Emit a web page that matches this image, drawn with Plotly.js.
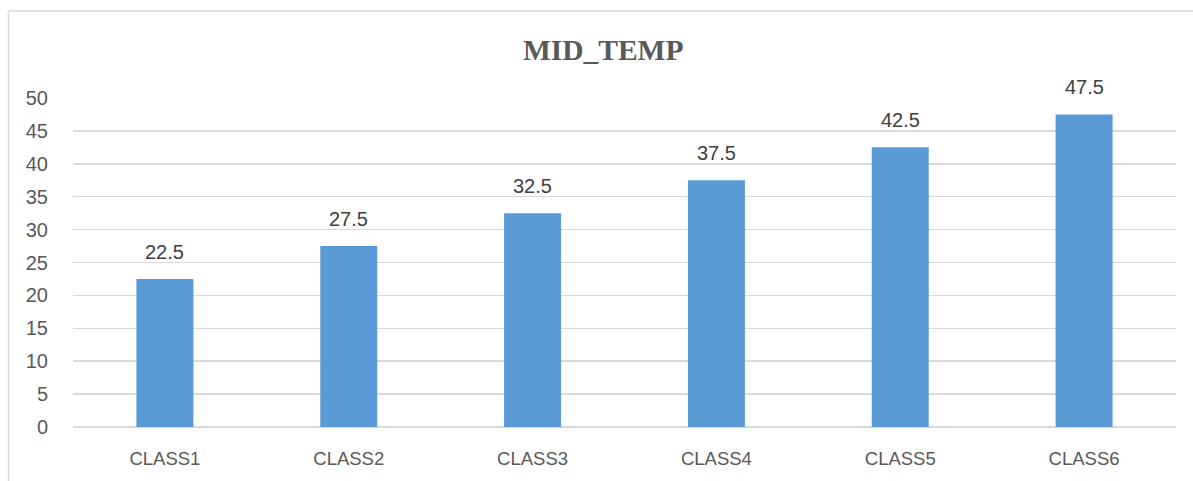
<!DOCTYPE html>
<html>
<head>
<meta charset="utf-8">
<script src="https://cdn.plot.ly/plotly-3.0.1.min.js"></script>
<style>html,body{margin:0;padding:0;background:#fff;}#chart{width:1193px;height:481px;}</style>
</head>
<body>
<div id="chart"></div>
<script>
var categories = ["CLASS1", "CLASS2", "CLASS3", "CLASS4", "CLASS5", "CLASS6"];
var midTemp = [22.5, 27.5, 32.5, 37.5, 42.5, 47.5];
var yTicks = [0, 5, 10, 15, 20, 25, 30, 35, 40, 45, 50];

var trace = {
  type: 'bar',
  x: categories,
  y: midTemp,
  marker: {color: '#5b9bd5'},
  hoverinfo: 'x+y'
};

var labelAnnotations = categories.map(function(c, i){
  return {
    x: c, y: midTemp[i], xref: 'x', yref: 'y',
    text: midTemp[i].toFixed(1),
    showarrow: false,
    yanchor: 'bottom',
    yshift: 14,
    font: {family: 'Liberation Sans, Arial, sans-serif', size: 20, color: '#404040'}
  };
});

var layout = {
  width: 1193,
  height: 481,
  margin: {l: 73, r: 17, t: 98, b: 54},
  paper_bgcolor: '#ffffff',
  plot_bgcolor: '#ffffff',
  bargap: 0.69,
  showlegend: false,
  title: {
    text: '<b>MID_TEMP</b>',
    font: {family: 'Liberation Serif, Times New Roman, serif', size: 29.5, color: '#595959'},
    x: 0.5056, xanchor: 'center',
    y: 0.896, yanchor: 'middle', yref: 'container'
  },
  xaxis: {
    type: 'category',
    showgrid: false,
    showline: false,
    zeroline: false,
    ticks: 'outside',
    ticklen: 15,
    tickcolor: 'rgba(0,0,0,0)',
    tickfont: {family: 'Liberation Sans, Arial, sans-serif', size: 18.5, color: '#595959'}
  },
  yaxis: {
    range: [0, 50],
    tickvals: yTicks,
    ticktext: yTicks.map(String),
    showgrid: true,
    gridcolor: '#d9d9d9',
    gridwidth: 1.5,
    zeroline: true,
    zerolinecolor: '#d9d9d9',
    zerolinewidth: 1.5,
    showline: false,
    ticks: 'outside',
    ticklen: 20,
    tickcolor: 'rgba(0,0,0,0)',
    tickfont: {family: 'Liberation Sans, Arial, sans-serif', size: 20, color: '#595959'}
  },
  annotations: labelAnnotations,
  shapes: [
    {type: 'line', xref: 'paper', yref: 'paper', x0: -0.0585, x1: -0.0585, y0: -0.25, y1: 1.2644,
     line: {color: '#d9d9d9', width: 1.5}},
    {type: 'line', xref: 'paper', yref: 'paper', x0: -0.0585, x1: 1.1, y0: 1.2644, y1: 1.2644,
     line: {color: '#d9d9d9', width: 1.5}}
  ]
};

Plotly.newPlot('chart', [trace], layout, {displayModeBar: false, staticPlot: true});
</script>
</body>
</html>
